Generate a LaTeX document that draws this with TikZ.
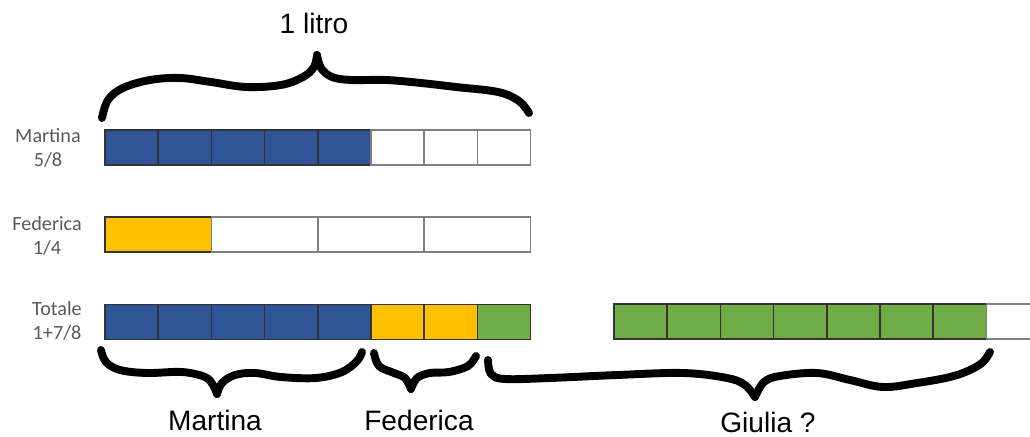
\documentclass[tikz,border=0pt]{standalone}
\usepackage{fontspec}
\setmainfont{Liberation Sans}
\newfontfamily\sidefont{Carlito}
\usetikzlibrary{positioning}

\definecolor{barblue}{HTML}{2F5597}
\definecolor{baryellow}{HTML}{FFC000}
\definecolor{bargreen}{HTML}{70AD47}
\definecolor{sidegray}{HTML}{595959}

\begin{document}
\begin{tikzpicture}[
    x=0.02cm, y=-0.02cm,
    cell/.style={draw=black!80, line width=0.9pt, inner sep=0pt, minimum width=1.064cm, minimum height=0.7cm},
    emptycell/.style={cell, draw=black!50, fill=white},
    widecell/.style={minimum width=2.128cm},
    sidelabel/.style={font=\sidefont\fontsize{11.5}{13.5}\selectfont, text=sidegray, align=center},
    biglabel/.style={font=\fontsize{16}{19}\selectfont, anchor=base},
    handbrace/.style={line width=4.5pt, line cap=round, line join=round}
]
    \clip (0,0) rectangle (1030,436);

    % Martina 5/8
    \node at (48, 148) [sidelabel](lab_martina){Martina\\5/8};
    \foreach \i in {1,...,5}
        \node at ({105+53.2*(\i-0.5)}, 147.5) [cell, fill=barblue](m\i){};
    \foreach \i in {6,7,8}
        \node at ({105+53.2*(\i-0.5)}, 147.5) [emptycell](m\i){};

    % Federica 1/4
    \node at (47, 236) [sidelabel](lab_federica){Federica\\1/4};
    \node at ({105+106.4*0.5}, 234.5) [cell, widecell, fill=baryellow](f1){};
    \foreach \i in {2,3,4}
        \node at ({105+106.4*(\i-0.5)}, 234.5) [emptycell, widecell](f\i){};

    % Totale 1+7/8
    \node at (57, 321) [sidelabel](lab_totale){Totale\\1+7/8};
    \foreach \i in {1,...,5}
        \node at ({105+53.2*(\i-0.5)}, 322) [cell, fill=barblue](t\i){};
    \foreach \i in {6,7}
        \node at ({105+53.2*(\i-0.5)}, 322) [cell, fill=baryellow](t\i){};
    \node at ({105+53.2*7.5}, 322) [cell, fill=bargreen](t8){};

    % -- Giulia
    \foreach \i in {1,...,7}
        \node at ({614+53.2*(\i-0.5)}, 321.5) [cell, fill=bargreen](g\i){};
    \node at ({614+53.2*7.5}, 321.5) [emptycell](g8){};

    % Braces
    % - 1 litro
    \draw [handbrace] plot [smooth, tension=0.6] coordinates {(102,118) (108,100) (123,88) (150,80) (180,78) (211,82) (246,87) (281,85) (303,77) (314,67) (317,55)};
    \draw [handbrace] plot [smooth, tension=0.6] coordinates {(317,55) (321,68) (332,77) (351,80) (386,80) (421,83) (456,87) (498,92) (519,101) (529,113)};
    \node at (314, 33) [biglabel](litro){1 litro};

    % - Martina
    \draw [handbrace] plot [smooth, tension=0.6] coordinates {(101,350) (106,362) (120,370) (147,373) (182,372) (205,377) (213,385) (217,394)};
    \draw [handbrace] plot [smooth, tension=0.6] coordinates {(217,394) (222,383) (235,375) (255,373) (281,377) (316,378) (342,372) (357,361) (362,352)};
    \node at (215, 430) [biglabel](sum_martina){Martina};

    % - Federica
    \draw [handbrace] plot [smooth, tension=0.6] coordinates {(374,353) (379,366) (394,373) (405,378) (411,389)};
    \draw [handbrace] plot [smooth, tension=0.6] coordinates {(411,389) (417,378) (430,373) (449,372) (468,366) (476,356)};
    \node at (419, 430) [biglabel](sum_federica){Federica};

    % - Giulia
    \draw [handbrace] plot [smooth, tension=0.6] coordinates {(488,360) (491,374) (505,379) (550,378) (617,375) (683,373) (727,378) (745,385) (755,397)};
    \draw [handbrace] plot [smooth, tension=0.6] coordinates {(755,397) (764,382) (780,376) (817,373) (850,380) (883,387) (917,383) (950,377) (970,370) (983,362) (990,352)};
    \node at (768, 432) [biglabel](sum_giulia){Giulia ?};

\end{tikzpicture}
\end{document}
